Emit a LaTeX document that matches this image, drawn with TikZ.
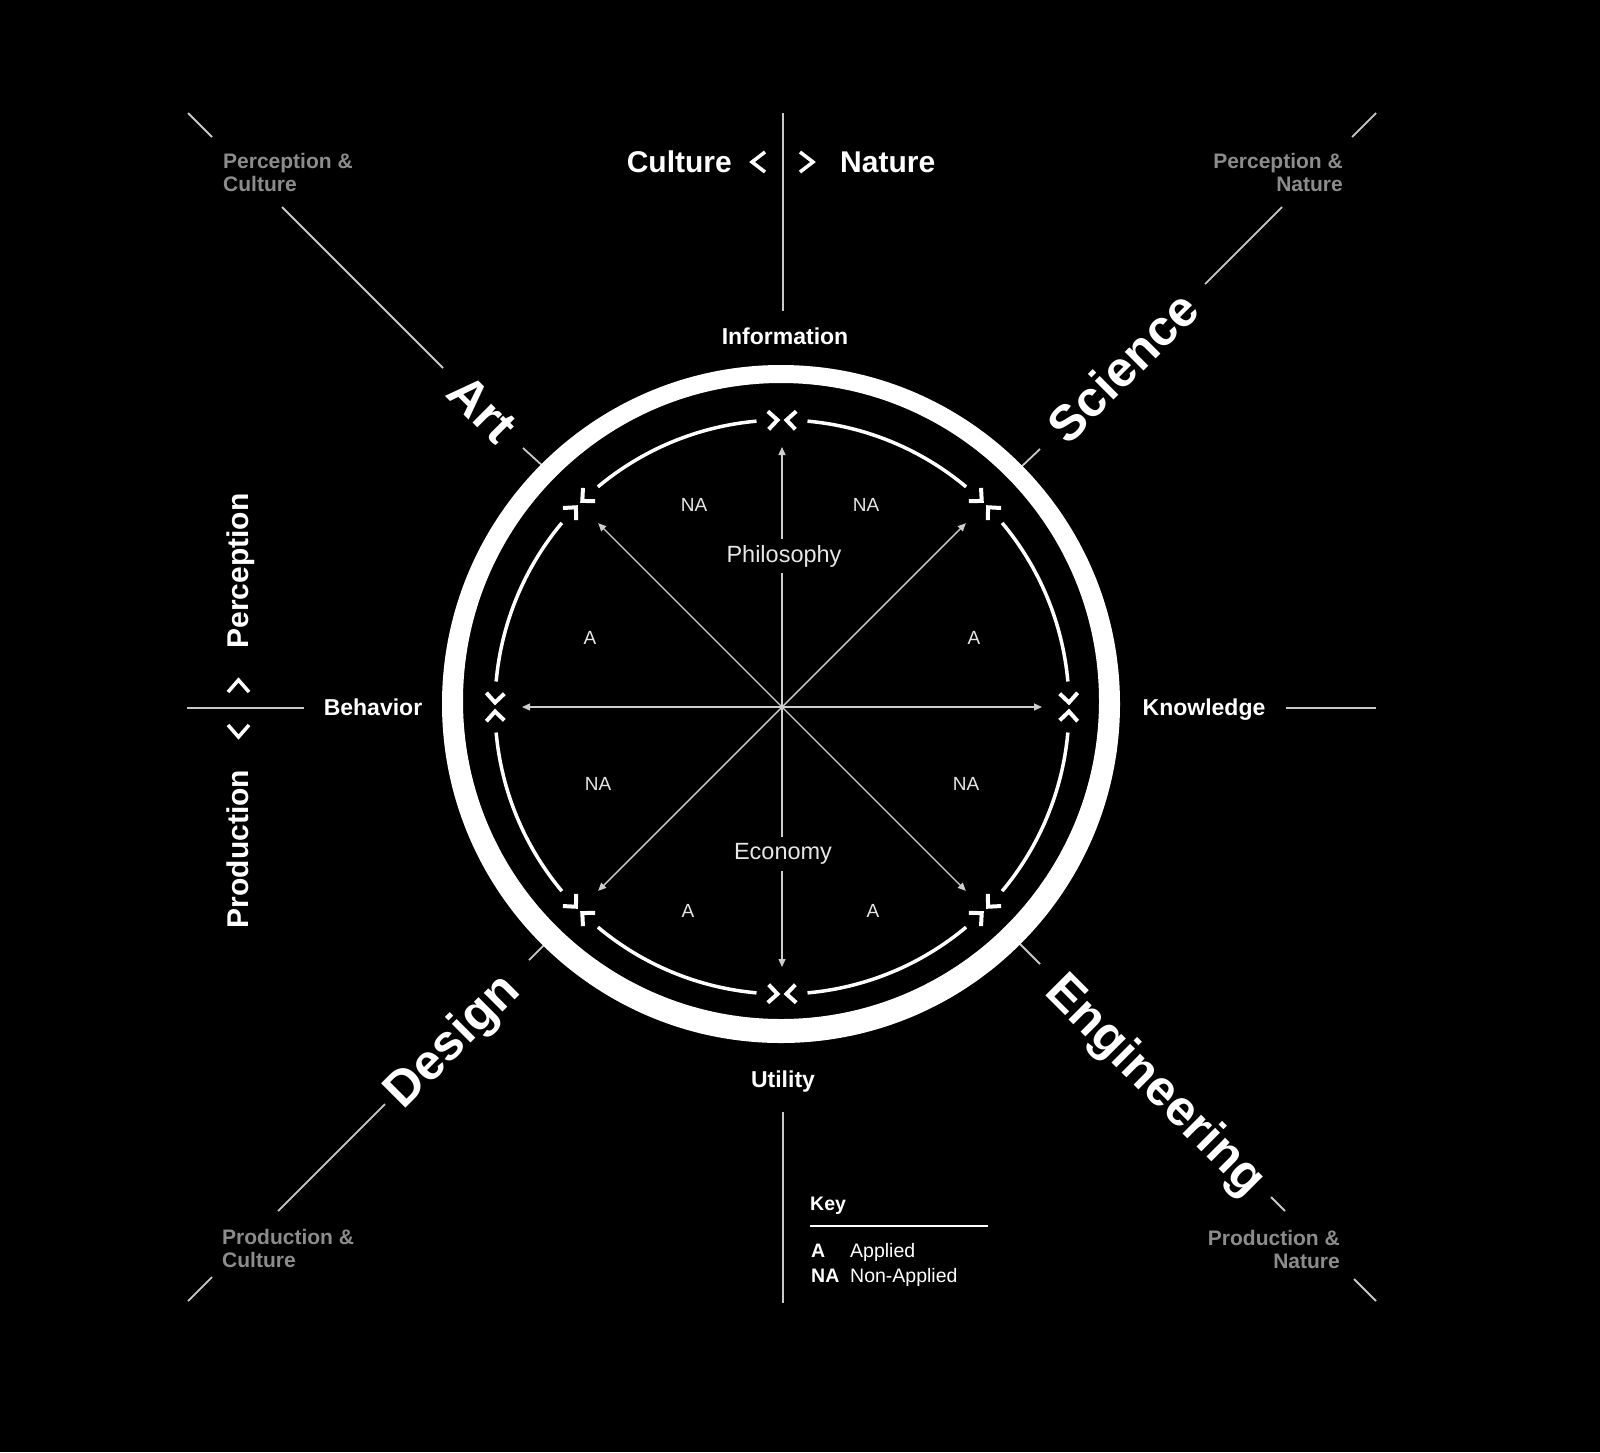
\documentclass[tikz,border=0pt]{standalone}
\usepackage{fontspec}
\setmainfont{Liberation Sans}
\usetikzlibrary{arrows.meta}
\definecolor{linec}{RGB}{200,200,200}
\definecolor{arrc}{RGB}{205,205,205}
\definecolor{greyt}{RGB}{140,140,140}
\definecolor{lightt}{RGB}{230,230,230}
\begin{document}
\begin{tikzpicture}[x=1pt,y=-1pt,
  bigb/.style={text=white,font=\bfseries\fontsize{30}{30}\selectfont,inner sep=0pt},
  midb/.style={text=white,font=\bfseries\fontsize{23}{23}\selectfont,inner sep=0pt},
  cornert/.style={text=greyt,font=\bfseries\fontsize{21}{21}\selectfont,inner sep=0pt},
  diag/.style={text=white,font=\bfseries\fontsize{50}{50}\selectfont,inner sep=0pt},
  inlab/.style={text=lightt,font=\fontsize{19}{19}\selectfont,inner sep=0pt},
  axlab/.style={text=lightt,font=\fontsize{23.5}{23.5}\selectfont,fill=black,inner xsep=2pt,inner ysep=6pt},
  keyb/.style={text=white,font=\bfseries\fontsize{19.5}{19.5}\selectfont,inner sep=0pt},
  keyr/.style={text=white,font=\fontsize{19.5}{19.5}\selectfont,inner sep=0pt},
  guide/.style={draw=linec,line width=1.8pt},
  arr/.style={draw=arrc,line width=1.4pt,-{Triangle[length=8pt,width=7pt]}},
  chev/.style={draw=white,line width=4pt,line cap=butt,line join=miter},
  smallchev/.style={draw=white,line width=3.5pt,line cap=butt,line join=miter},
  ringarc/.style={draw=white,line width=3.5pt}
  ]
\fill[black] (0,0) rectangle (1600,1452);
\useasboundingbox (0,0) rectangle (1600,1452);

\coordinate (C) at (782,707);

% guide lines
\coordinate (vt1) at (783,113); \coordinate (vt2) at (783,311);
\coordinate (vb1) at (783,1112); \coordinate (vb2) at (783,1303);
\coordinate (hl1) at (187,708); \coordinate (hl2) at (304,708);
\coordinate (hr1) at (1286,708); \coordinate (hr2) at (1376,708);
\draw[guide] (vt1) -- (vt2);
\draw[guide] (vb1) -- (vb2);
\draw[guide] (hl1) -- (hl2);
\draw[guide] (hr1) -- (hr2);
% top-left diagonal
\draw[guide] (188,113) -- (212,137);
\draw[guide] (282,207) -- (443,368);
\draw[guide] (523,448) -- (545,468);
% top-right diagonal
\draw[guide] (1376,113) -- (1352,137);
\draw[guide] (1282,207) -- (1205,284);
\draw[guide] (1040,449) -- (1020,468);
% bottom-left diagonal
\draw[guide] (188,1301) -- (212,1277);
\draw[guide] (278,1211) -- (385,1104);
\draw[guide] (529,960) -- (545,944);
% bottom-right diagonal
\draw[guide] (1376,1301) -- (1354,1279);
\draw[guide] (1285,1211) -- (1271,1197);
\draw[guide] (1040,964) -- (1019,943);

% outer ring
\fill[white,even odd rule] (781,704) circle[radius=339] (781,701) circle[radius=318];

% arrow ends
\begin{scope}[shift={(C)}]
\foreach \t in {0,45,...,315} { \coordinate (e\t) at (\t:260); }
\end{scope}
\foreach \t in {0,45,...,315} { \draw[arr] (C) -- (e\t); }

% inner circle arcs and chevrons
\begin{scope}[shift={(C)}]
\foreach \t [evaluate=\t as \aa using \t+5.1, evaluate=\t as \bb using \t+39.9,
             evaluate=\t as \ca using \t+2.75, evaluate=\t as \cb using \t+0.9,
             evaluate=\t as \da using \t-2.75, evaluate=\t as \db using \t-0.9] in {0,45,...,315} {
  \draw[ringarc] (\aa:287) arc[start angle=\aa, end angle=\bb, radius=287];
  \draw[chev] (\ca:278) -- (\cb:287) -- (\ca:296);
  \draw[chev] (\da:278) -- (\db:287) -- (\da:296);
}
\end{scope}

% inner labels
\node[inlab] (na1) at (694,505) {NA};
\node[inlab] (na2) at (866,505) {NA};
\node[inlab] (a1) at (590,638) {A};
\node[inlab] (a2) at (974,638) {A};
\node[inlab] (na3) at (598,784) {NA};
\node[inlab] (na4) at (966,784) {NA};
\node[inlab] (a3) at (688,911) {A};
\node[inlab] (a4) at (873,911) {A};
\node[axlab] (phil) at (784,556) {Philosophy};
\node[axlab] (econ) at (783,854) {Economy};

% axis labels
\node[midb,anchor=base] (info) at (785,344) {Information};
\node[midb,anchor=base] (util) at (783,1087) {Utility};
\node[midb,anchor=base] (beh) at (373,715) {Behavior};
\node[midb,anchor=base] (know) at (1204,715) {Knowledge};

% big side labels
\node[bigb,anchor=base east] (cult) at (732,172) {Culture};
\node[bigb,anchor=base west] (nat) at (840,172) {Nature};
\node[bigb,rotate=90,anchor=base] (perc) at (248,571) {Perception};
\node[bigb,rotate=90,anchor=base] (prod) at (248,849) {Production};
\draw[smallchev] (765,152) -- (752,162) -- (765,172);
\draw[smallchev] (800,152) -- (813,162) -- (800,172);
\draw[smallchev] (228,692) -- (238.5,680) -- (249,692);
\draw[smallchev] (228,725) -- (238.5,737) -- (249,725);

% corner labels
\node[cornert,anchor=base west] (tl1) at (223,168) {Perception \&};
\node[cornert,anchor=base west] (tl2) at (223,191) {Culture};
\node[cornert,anchor=base east] (tr1) at (1343,168) {Perception \&};
\node[cornert,anchor=base east] (tr2) at (1343,191) {Nature};
\node[cornert,anchor=base west] (bl1) at (222,1244) {Production \&};
\node[cornert,anchor=base west] (bl2) at (222,1267) {Culture};
\node[cornert,anchor=base east] (br1) at (1340,1245) {Production \&};
\node[cornert,anchor=base east] (br2) at (1340,1268) {Nature};

% diagonal labels
\node[diag,rotate=-45,anchor=base] (art) at (470.3,420.7) {Art};
\node[diag,rotate=45,anchor=base] (sci) at (1135.2,379.2) {Science};
\node[diag,rotate=-45,anchor=base] (eng) at (1145.3,1095.7) {Engineering};
\node[diag,rotate=45,anchor=base] (des) at (462.7,1051.7) {Design};

% key
\node[keyb,anchor=base west] (key) at (810,1210) {Key};
\coordinate (kl1) at (810,1226); \coordinate (kl2) at (988,1226);
\draw[white,line width=2pt] (kl1) -- (kl2);
\node[keyb,anchor=base west] (ka) at (811,1257) {A};
\node[keyr,anchor=base west] (kap) at (850,1257) {Applied};
\node[keyb,anchor=base west] (kna) at (811,1282) {NA};
\node[keyr,anchor=base west] (knap) at (850,1282) {Non-Applied};
\end{tikzpicture}
\end{document}
